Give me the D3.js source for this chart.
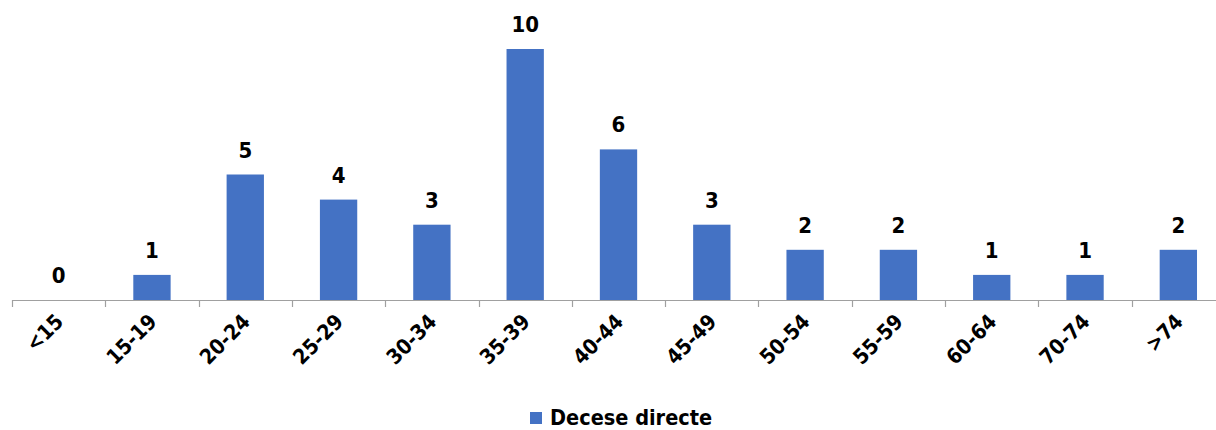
<!DOCTYPE html>
<html><head><meta charset="utf-8">
<script src="https://cdn.jsdelivr.net/npm/d3@7"></script>
<style>body{margin:0;background:#fff}svg{display:block}</style>
</head><body>
<script>
const categories = ["<15","15-19","20-24","25-29","30-34","35-39","40-44","45-49","50-54","55-59","60-64","70-74",">74"];
const values = [0,1,5,4,3,10,6,3,2,2,1,1,2];
const seriesName = "Decese directe";

const W = 1216, H = 430;
const font = "'DejaVu Sans Condensed', 'DejaVu Sans', sans-serif";
const svg = d3.select("body").append("svg").attr("width", W).attr("height", H);

const x = d3.scaleBand().domain(categories).range([12, 1225]).paddingInner(0.6).paddingOuter(0.3);
const y = d3.scaleLinear().domain([0, 10]).range([300, 49]);
const color = "#4472C4";

svg.selectAll("rect.bar").data(values).enter().append("rect")
  .attr("class","bar")
  .attr("x",(d,i)=>x(categories[i]))
  .attr("width",x.bandwidth())
  .attr("y",d=>y(d))
  .attr("height",d=>y(0)-y(d))
  .attr("fill",color);

// axis
const x0 = 12, x1 = 1225;
svg.append("line").attr("x1",x0).attr("x2",x1).attr("y1",300.5).attr("y2",300.5).attr("stroke","#a0a0a0").attr("stroke-width",1.2);
const ticks = d3.range(categories.length+1).map(i=>x0+i*(x1-x0)/categories.length);
svg.selectAll("line.tk").data(ticks).enter().append("line")
  .attr("x1",d=>Math.round(d)+0.5).attr("x2",d=>Math.round(d)+0.5).attr("y1",300).attr("y2",307)
  .attr("stroke","#a0a0a0").attr("stroke-width",1.2);

// value labels
svg.selectAll("text.val").data(values).enter().append("text")
  .attr("x",(d,i)=>x(categories[i])+x.bandwidth()/2)
  .attr("y",d=>y(d)-17)
  .attr("text-anchor","middle")
  .attr("font-family",font).attr("font-stretch","condensed").attr("font-weight","bold").attr("font-size",22)
  .attr("fill","#000").text(d=>d);

// category labels
svg.selectAll("text.cat").data(categories).enter().append("text")
  .attr("transform",d=>`translate(${x(d)+x.bandwidth()/2+6},${323}) rotate(-45)`)
  .attr("text-anchor","end")
  .attr("font-family",font).attr("font-stretch","condensed").attr("font-weight","bold").attr("font-size",21)
  .attr("fill","#000").text(d=>d);

// legend
const lg = svg.append("g");
lg.append("rect").attr("x",530).attr("y",412).attr("width",12).attr("height",12).attr("fill",color);
lg.append("text").attr("x",550).attr("y",425)
  .attr("font-family",font).attr("font-stretch","condensed").attr("font-weight","bold").attr("font-size",21.5)
  .attr("fill","#000").text(seriesName);
</script>
</body></html>
